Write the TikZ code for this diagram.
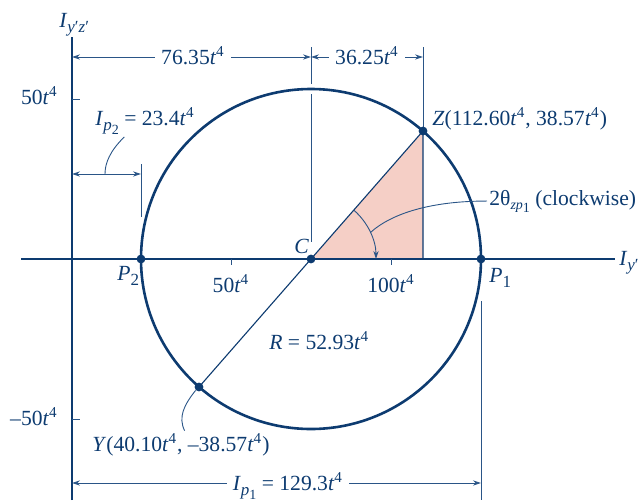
\documentclass[tikz,border=0pt]{standalone}
\usepackage{fontspec}
\setmainfont{Liberation Serif}
\usepackage{tikz}
\usetikzlibrary{arrows.meta,positioning,calc}
\definecolor{ink}{HTML}{0D3B70}
\definecolor{thinink}{HTML}{2A5587}
\definecolor{wedge}{HTML}{F5CFC6}
\newcommand{\tfour}{\textit{t}\textsuperscript{4}}
\newcommand{\lsub}[1]{\raisebox{-0.27em}{\fontsize{8.5}{9}\selectfont #1}}
\newcommand{\llsub}[1]{\raisebox{-0.22em}{\fontsize{7}{8}\selectfont #1}}
\tikzset{
  axisline/.style={draw=ink,line width=0.65pt},
  mohrcircle/.style={draw=ink,line width=1.3pt},
  thinline/.style={draw=thinink,line width=0.45pt},
  edgeline/.style={draw=ink,line width=0.55pt},
  dimarr/.style={-{Stealth[length=4pt,width=2.6pt]},line width=0.45pt,
                 draw=thinink},
  leader/.style={draw=thinink,line width=0.45pt},
  dot/.style={circle,fill=ink,inner sep=0pt,minimum size=4.4pt},
  lbl/.style={font=\fontsize{10.8}{13}\selectfont,text=ink,inner sep=1pt},
  dimlbl/.style={lbl,inner sep=3pt}
}
\begin{document}
\begin{tikzpicture}[x=0.5pt,y=0.5pt]
    \path[use as bounding box] (-72,-241) rectangle (567,259);
    % key points
    \coordinate (O) at (0,0);
    \coordinate (C) at (239,0);
    \coordinate (Z) at (351,128);
    \coordinate (Zfoot) at (351,0);
    \coordinate (Y) at (127,-128);
    \coordinate (P2) at (69,0);
    \coordinate (P1) at (409,0);
    % shaded triangle
    \fill[wedge] (C) -- (Z) -- (Zfoot) -- cycle;
    % axes and ticks
    \coordinate (vtop) at (0,222);
    \coordinate (vbot) at (0,-241);
    \coordinate (hleft) at (-51,0);
    \coordinate (hright) at (543,0);
    \draw[axisline] (vbot) -- (vtop);
    \draw[axisline] (hleft) -- (hright);
    \draw[thinline] (0,160) -- (8,160);
    \draw[thinline] (0,-160) -- (8,-160);
    \draw[thinline] (159,0) -- (159,-6);
    \draw[thinline] (319,0) -- (319,-6);
    % circle, diameter and triangle edges
    \draw[mohrcircle] (C) circle[radius=170];
    \draw[edgeline] (Y) -- (Z) -- (Zfoot);
    % extension lines
    \draw[thinline] (239,212) -- (239,175);
    \draw[thinline] (239,165) -- (239,17);
    \draw[thinline] (351,212) -- (Z);
    \draw[thinline] (69,95) -- (69,42);
    \draw[thinline] (409,-42) -- (409,-241);
    % points
    \foreach \pt in {C,Z,Y,P1,P2}
      \node[dot] (dot\pt) at (\pt) {};
    % axis labels
    \node[lbl,anchor=base west] (iyz) at (-15,232)
      {\textit{I}\lsub{\textit{y}′\textit{z}′}};
    \node[lbl,anchor=base west] (iy) at (545,-6)
      {\textit{I}\lsub{\textit{y}′}};
    \node[lbl,anchor=base east] (vfifty) at (-12,155) {50\tfour};
    \node[lbl,anchor=base east] (vmfifty) at (-12,-166) {–50\tfour};
    \node[lbl,anchor=base] (hfifty) at (159,-33) {50\tfour};
    \node[lbl,anchor=base] (hhundred) at (319,-33) {100\tfour};
    \node[lbl,anchor=base west] (lblP2) at (43,-21) {\textit{P}\lsub{2}};
    \node[lbl,anchor=base west] (lblP1) at (415,-23) {\textit{P}\lsub{1}};
    \node[lbl,anchor=base west] (lblC) at (220,6) {\textit{C}};
    \node[lbl,anchor=base west] (lblR) at (195,-90) {\textit{R} = 52.93\tfour};
    \node[lbl,anchor=base west] (lblZ) at (358,134)
      {\textit{Z}(112.60\tfour, 38.57\tfour)};
    \node[lbl,anchor=base west] (lblY) at (18,-192)
      {\textit{Y}(40.10\tfour, –38.57\tfour)};
    % dimension 76.35 and 36.25
    \coordinate (dOL) at (0,202);
    \coordinate (dCL) at (239,202);
    \coordinate (dZL) at (351,202);
    \node[dimlbl,anchor=base] (d76) at (121,195) {76.35\tfour};
    \node[dimlbl,anchor=base] (d36) at (295,195) {36.25\tfour};
    \draw[dimarr] (d76.west |- dOL) -- (dOL);
    \draw[dimarr] (d76.east |- dOL) -- (dCL);
    \draw[dimarr] (d36.west |- dOL) -- (dCL);
    \draw[dimarr] (d36.east |- dOL) -- (dZL);
    % dimension Ip2
    \coordinate (ip2L) at (0,85);
    \coordinate (ip2R) at (69,85);
    \coordinate (ip2foot) at (33,85);
    \draw[dimarr] (ip2foot) -- (ip2L);
    \draw[dimarr] (ip2foot) -- (ip2R);
    \node[lbl,anchor=base west] (ip2) at (21,134)
      {\textit{I}\lsub{\textit{p}\llsub{2}} = 23.4\tfour};
    \draw[leader] ($(ip2.south west)!0.3!(ip2.south east)$)
      .. controls (38,108) and (33,96) .. (ip2foot);
    % dimension Ip1
    \coordinate (ip1L) at (0,-224);
    \coordinate (ip1R) at (409,-224);
    \node[dimlbl,anchor=base] (ip1) at (216,-231)
      {\textit{I}\lsub{\textit{p}\llsub{1}} = 129.3\tfour};
    \draw[dimarr] (ip1.west |- ip1L) -- (ip1L);
    \draw[dimarr] (ip1.east |- ip1L) -- (ip1R);
    % angle 2theta
    \coordinate (arcS) at ($(C)+(48.8:65)$);
    \coordinate (arcM) at ($(C)+(24:65)$);
    \draw[dimarr] (arcS) arc[start angle=48.8,end angle=0,radius=65];
    \node[lbl,anchor=base west] (ang) at (415,54)
      {2θ{\fontsize{7}{8}\selectfont\raisebox{-0.3em}{\textit{zp}\raisebox{-0.2em}{1}}} (clockwise)};
    \draw[leader] (ang.west) .. controls (360,58) and (320,46) .. (arcM);
    % leader to Y
    \draw[leader] (dotY.south west)
      .. controls (112,-146) and (106,-158)
      .. ($(lblY.north west)!0.52!(lblY.north east)$);
  \end{tikzpicture}
\end{document}
